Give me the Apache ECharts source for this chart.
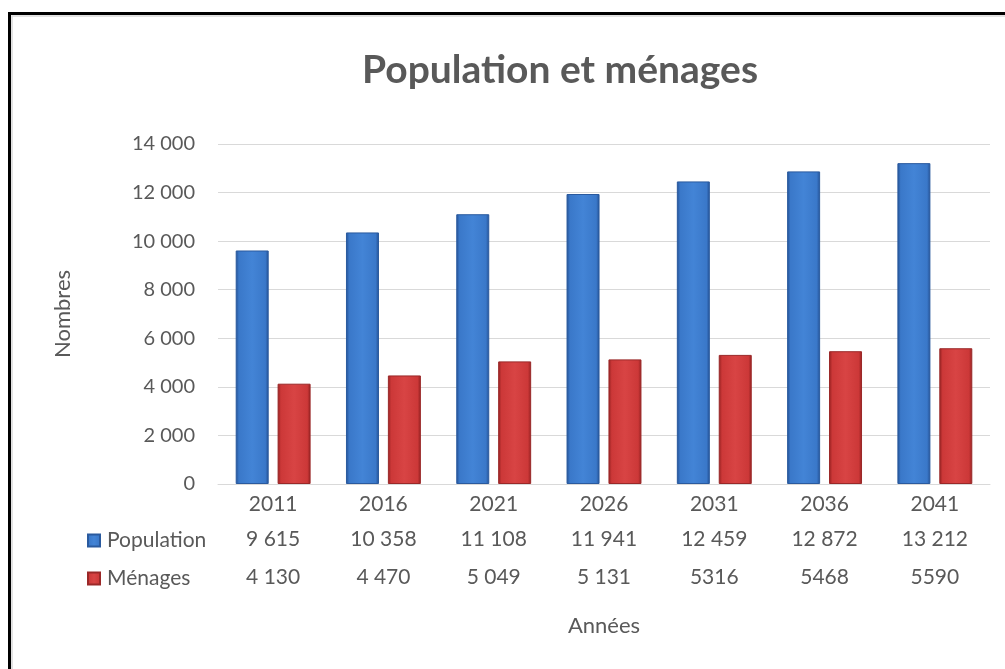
<!DOCTYPE html>
<html>
	<head>
		<meta charset="UTF-8">
		<title>Population et ménages</title>
		<style>
			html,body{margin:0;padding:0;background:#fff;}
			#box{width:1005px;height:669px;}
		</style>
	</head>
	<body>
		<div id="box"></div>

		<script type="text/javascript" src="https://cdn.jsdelivr.net/npm/echarts@6/dist/echarts.min.js"></script>
		<script type="text/javascript">
			// données
			var annees = ['2011', '2016', '2021', '2026', '2031', '2036', '2041'];
			var population = [9615, 10358, 11108, 11941, 12459, 12872, 13212];
			var menages = [4130, 4470, 5049, 5131, 5316, 5468, 5590];
			// texte du tableau de données (les 3 dernières valeurs sans espace dans l'original)
			var menagesTexte = ['4 130', '4 470', '5 049', '5 131', '5316', '5468', '5590'];
			var yTicks = [0, 2000, 4000, 6000, 8000, 10000, 12000, 14000];

			var gris = '#595959';
			var police = 'Lato';

			function sep(v){
				return String(v).replace(/\B(?=(\d{3})+(?!\d))/g, ' ');
			}

			function degrade(sombre, clair, centre){
				return new echarts.graphic.LinearGradient(0, 0, 1, 0, [
					{offset: 0, color: sombre},
					{offset: 0.1, color: clair},
					{offset: 0.5, color: centre},
					{offset: 0.9, color: clair},
					{offset: 1, color: sombre}
				]);
			}

			var box = document.getElementById('box');
			var myechart = echarts.init(box);

			// axe x supplémentaire pour une ligne du tableau
			function ligneTableau(textes, marge){
				return {
					type: 'category',
					gridIndex: 0,
					position: 'bottom',
					data: textes,
					axisLine: {show: false},
					axisTick: {show: false},
					splitLine: {show: false},
					axisLabel: {interval: 0, margin: marge, color: gris, fontSize: 21, fontFamily: police}
				};
			}

			var option = {
				backgroundColor: '#fff',
				animation: false,
				title: {
					text: 'Population et ménages',
					left: 357,
					top: 46,
					textStyle: {color: gris, fontSize: 39, fontWeight: 'bold', fontFamily: police}
				},
				legend: [{
					data: ['Population'],
					left: 87,
					top: 530,
					padding: 0,
					icon: 'rect',
					itemWidth: 12,
					itemHeight: 12,
					textStyle: {color: gris, fontSize: 21, fontFamily: police, padding: [0, 0, 0, 2]}
				}, {
					data: ['Ménages'],
					left: 87,
					top: 568,
					padding: 0,
					icon: 'rect',
					itemWidth: 12,
					itemHeight: 12,
					textStyle: {color: gris, fontSize: 21, fontFamily: police, padding: [0, 0, 0, 2]}
				}],
				grid: {left: 218, right: 15, top: 144, bottom: 185},
				xAxis: [{
					type: 'category',
					data: annees,
					position: 'bottom',
					name: 'Années',
					nameLocation: 'middle',
					nameGap: 131,
					nameTextStyle: {color: gris, fontSize: 22, fontFamily: police},
					axisLine: {lineStyle: {color: '#d9d9d9', width: 1}},
					axisTick: {show: false},
					axisLabel: {interval: 0, margin: 10, color: gris, fontSize: 21, fontFamily: police}
				},
					ligneTableau(population.map(sep), 45),
					ligneTableau(menagesTexte, 83)
				],
				yAxis: {
					type: 'value',
					min: yTicks[0],
					max: yTicks[yTicks.length - 1],
					interval: yTicks[1] - yTicks[0],
					name: 'Nombres',
					nameLocation: 'middle',
					nameGap: 144,
					nameTextStyle: {color: gris, fontSize: 22, fontFamily: police},
					axisLine: {show: false},
					axisTick: {show: false},
					axisLabel: {margin: 23, color: gris, fontSize: 20, fontFamily: police, formatter: sep},
					splitLine: {lineStyle: {color: '#d9d9d9', width: 1}}
				},
				series: [{
					name: 'Population',
					type: 'bar',
					data: population,
					barWidth: 33,
					barGap: '27%',
					itemStyle: {color: degrade('#234f92', '#3a78c9', '#4384d6'), borderColor: '#2a5a9e', borderWidth: 1}
				}, {
					name: 'Ménages',
					type: 'bar',
					data: menages,
					barWidth: 33,
					itemStyle: {color: degrade('#922020', '#cc3838', '#d84444'), borderColor: '#9a2828', borderWidth: 1}
				}],
				graphic: [{
					type: 'rect',
					shape: {x: 9.5, y: 13.5, width: 1100, height: 800},
					style: {fill: null, stroke: '#000', lineWidth: 3},
					silent: true
				}, {
					type: 'polyline',
					shape: {points: [[12, 700], [12, 16], [1005, 16]]},
					style: {fill: null, stroke: '#d9d9d9', lineWidth: 1.5},
					silent: true
				}]
			};

			myechart.setOption(option);
		</script>
	</body>
</html>
